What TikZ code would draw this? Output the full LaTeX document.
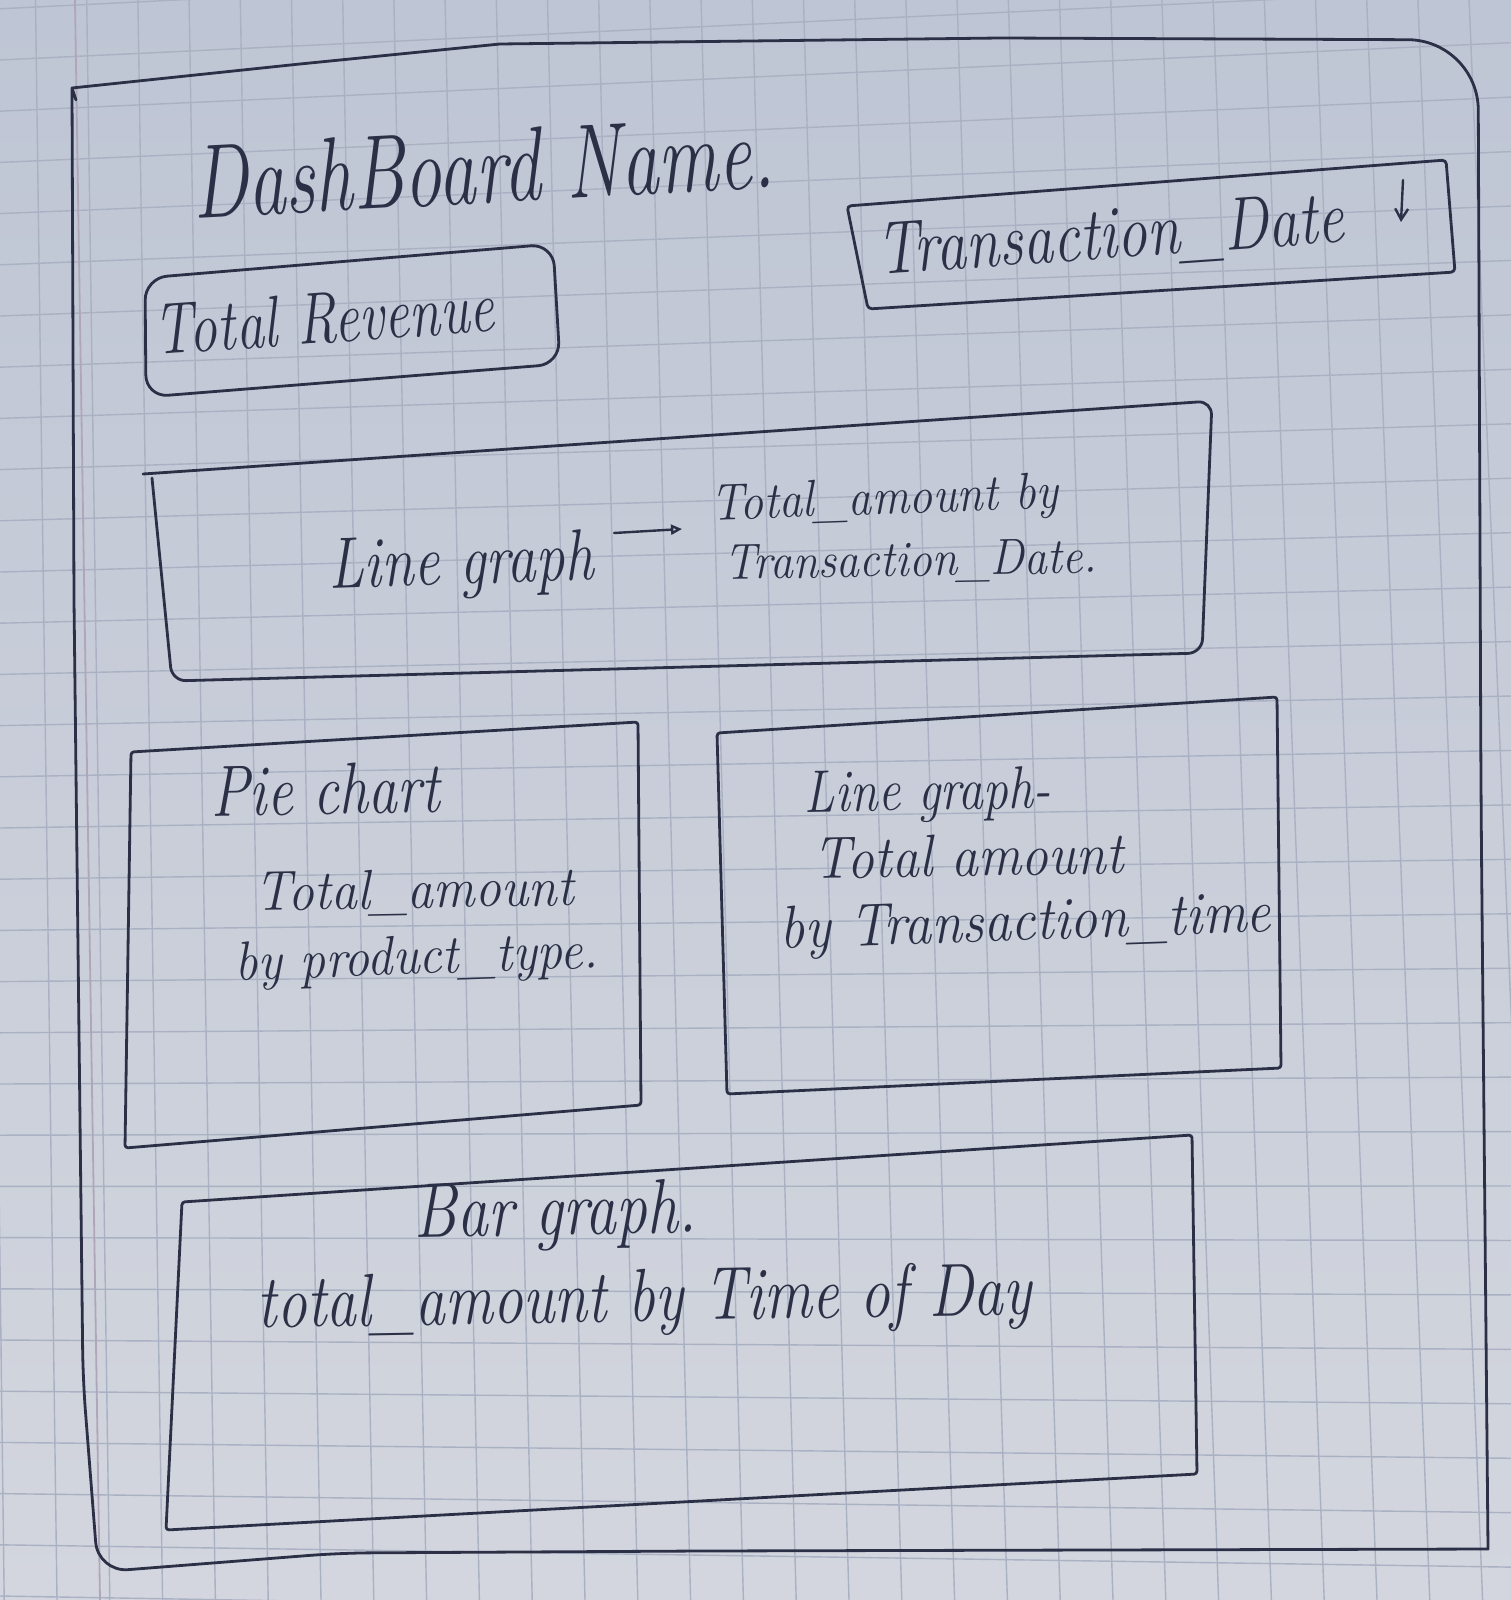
\documentclass[tikz,border=0pt]{standalone}
\usetikzlibrary{arrows.meta}
\definecolor{ink}{HTML}{2B3046}
\definecolor{paperT}{HTML}{BEC5D4}
\definecolor{paperB}{HTML}{D3D6DE}
\definecolor{gridc}{HTML}{A9B1C3}
\definecolor{marginc}{HTML}{B0A6B9}
\begin{document}
\begin{tikzpicture}[x=1pt,y=-1pt,
  pen/.style={draw=ink,line width=2.8pt,line join=round,line cap=round},
  gridline/.style={draw=gridc,line width=1.4pt},
  hand/.style={text=ink,inner sep=0pt,anchor=base},
  fs/.style={font=\itshape\fontsize{#1}{#1}\selectfont},
  penarrow/.style={pen,line width=2.4pt}]

% paper
\shade[top color=paperT,bottom color=paperB] (0,0) rectangle (1511,1600);
\useasboundingbox (0,0) rectangle (1511,1600);

% squared ruling of the notebook page
\begin{scope}
  \clip (0,0) rectangle (1511,1600);
  \foreach \k in {-1,...,32}{
    \pgfmathsetmacro{\yl}{8.8+51.2*\k}
    \pgfmathsetmacro{\yr}{\yl+1511*(-0.05+0.065*\yl/1550)}
    \draw[gridline] (0,\yl) -- (1511,\yr);
  }
  \foreach \k in {-1,...,30}{
    \pgfmathsetmacro{\xt}{35.5+51.2*\k}
    \pgfmathsetmacro{\xb}{57+52.8*\k}
    \draw[gridline] (\xt,0) -- (\xb,1600);
  }
\end{scope}
\draw[draw=marginc,line width=1.8pt] (75,0) -- (100,1600);

% outer frame of the dashboard
\draw[pen] (76,100) -- (72,88) -- (300,64) -- (500,44) -- (1000,38)
  [rounded corners=70] -- (1478,40) -- (1481,800)
  [sharp corners] -- (1488,1549) -- (700,1551)
  [rounded corners=30] -- (340,1553) -- (98,1572) -- (83,1380)
  [sharp corners] -- (74,600) -- (72,88);

% title
\node[hand,fs=75,rotate=3,yscale=1.4] (title) at (485,203) {DashBoard Name.};

% KPI card
\draw[pen,rounded corners=22] (145,278) -- (553,244) -- (560,364) -- (146,397) -- cycle;
\node[hand,fs=56,rotate=4,yscale=1.3] (revenue) at (326,343) {Total Revenue};

% date filter with its drop-down arrow
\draw[pen,rounded corners=4] (847,206) -- (1446,160) -- (1455,272) -- (868,309) -- cycle;
\node[hand,fs=60,rotate=4,yscale=1.25] (datefilter) at (1112,258) {Transaction\_Date};
\coordinate (dropTop) at (1403,180);
\coordinate (dropEnd) at (1401,222);
\draw[penarrow,-{Straight Barb[length=11pt,width=13pt]}] (dropTop) -- (dropEnd);

% wide line graph
\draw[pen,rounded corners=14] (143,474) -- (1212,401) -- (1202,653) -- (172,681) -- (152,478);
\node[hand,fs=58,rotate=2,yscale=1.25] (lineA) at (462,584) {Line graph};
\coordinate (arrS) at (614,533);
\coordinate (arrE) at (682,529);
\draw[penarrow,-{Triangle[open,length=11pt,width=10pt]}] (arrS) -- (arrE);
\node[hand,fs=47,rotate=2,yscale=1.1] (lineB) at (885,514) {Total\_amount by};
\node[hand,fs=46,rotate=1,yscale=1.1] (lineC) at (911,576) {Transaction\_Date.};

% pie chart
\draw[pen,rounded corners=3] (131,752) -- (638,722) -- (641,1105) -- (125,1148) -- cycle;
\node[hand,fs=58,rotate=1,yscale=1.25] (pieA) at (326,814) {Pie chart};
\node[hand,fs=52,rotate=1,yscale=1.08] (pieB) at (415,908) {Total\_amount};
\node[hand,fs=51,rotate=2,yscale=1.08] (pieC) at (417,974) {by product\_type.};

% line graph by time
\draw[pen,rounded corners=3] (717,733) -- (1277,697) -- (1281,1068) -- (727,1094) -- cycle;
\node[hand,fs=50,rotate=1,yscale=1.2] (timeA) at (928,810) {Line graph-};
\node[hand,fs=54,rotate=1,yscale=1.1] (timeB) at (969,876) {Total amount};
\node[hand,fs=55,rotate=2,yscale=1.1] (timeC) at (1026,940) {by Transaction\_time};

% bar graph
\draw[pen,rounded corners=3] (182,1202) -- (1192,1135) -- (1197,1474) -- (166,1530) -- cycle;
\node[hand,fs=62,rotate=1,yscale=1.25] (barA) at (556,1235) {Bar graph.};
\node[hand,fs=60,rotate=1,yscale=1.25] (barB) at (645,1321) {total\_amount by Time of Day};

\end{tikzpicture}
\end{document}
